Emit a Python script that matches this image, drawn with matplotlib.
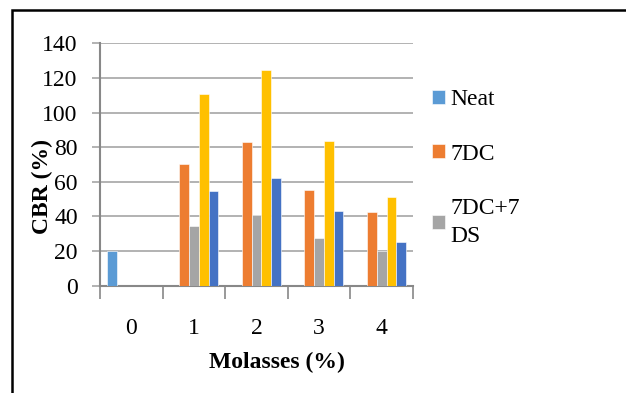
import matplotlib
matplotlib.use("Agg")
import matplotlib.pyplot as plt
from matplotlib.patches import Rectangle
import numpy as np

categories = ["0", "1", "2", "3", "4"]
series_names = ["Neat", "7DC", "7DC+7\nDS", "Series 4", "Series 5"]
neat = [20, 0, 0, 0, 0]
dc7 = [0, 70.3, 82.8, 55.1, 42.6]
dc7_ds7 = [0, 34.7, 40.8, 27.3, 20]
series4 = [0, 110.7, 124.6, 83.6, 51.2]
series5 = [0, 54.7, 62.2, 43.3, 25.2]
colors = ["#5B9BD5", "#ED7D31", "#A5A5A5", "#FFC000", "#4472C4"]
yticks = [0, 20, 40, 60, 80, 100, 120, 140]

plt.rcParams['font.family'] = ['Liberation Serif', 'DejaVu Serif']
FS = 17

W, H = 626, 393
fig = plt.figure(figsize=(W/100, H/100), dpi=100)
ax = fig.add_axes([100/W, 1-285.7/H, 313/W, 242.4/H])

data = [neat, dc7, dc7_ds7, series4, series5]
x = np.arange(len(categories))
bw = 0.1556
handles = []
for i, (vals, c) in enumerate(zip(data, colors)):
    h = ax.bar(x + (i-2)*bw, vals, width=bw, color=c, edgecolor='white', linewidth=0.4, zorder=3)
    handles.append(h)

ax.set_xlim(-0.5, 4.5)
ax.set_ylim(0, 140)
ax.set_yticks(yticks)
ax.set_yticklabels([str(v) for v in yticks], fontsize=FS)
ax.yaxis.grid(True, color='#A6A6A6', linewidth=1.2, zorder=0)
ax.set_xticks(np.arange(-0.5, 5, 1))
ax.set_xticklabels([])
ax.set_xticks(x, minor=True)
ax.set_xticklabels(categories, minor=True, fontsize=FS)
ax.tick_params(axis='x', which='major', length=9, color='#888888', width=1.2, direction='out')
ax.tick_params(axis='x', which='minor', length=0, pad=23)
ax.tick_params(axis='y', length=6, color='#A6A6A6', width=1.2, pad=10)
for s in ['top', 'right']:
    ax.spines[s].set_visible(False)
ax.spines['left'].set_color('#888888')
ax.spines['left'].set_linewidth(1.5)
ax.spines['bottom'].set_color('#888888')
ax.spines['bottom'].set_linewidth(1.5)

fig.text(42/W, 1-187/H, "CBR (%)", rotation=90, ha='center', va='center', fontsize=FS, fontweight='bold')
fig.text(277/W, 1-362/H, "Molasses (%)", ha='center', va='center', fontsize=FS, fontweight='bold')

leg = fig.legend(handles[:3], series_names[:3], loc='upper left', bbox_to_anchor=(423/W, 1-80/H),
                 frameon=False, fontsize=FS, handlelength=0.55, handleheight=0.55, handletextpad=0.2,
                 labelspacing=1.4, borderaxespad=0)
for t in leg.get_texts():
    t.set_linespacing(1.45)

fig.patches.append(Rectangle((12/W, -0.1), 1.2, 1-10/H+0.1, transform=fig.transFigure,
                             fill=False, edgecolor='black', linewidth=1.8))

fig.savefig("out.png", dpi=100)
